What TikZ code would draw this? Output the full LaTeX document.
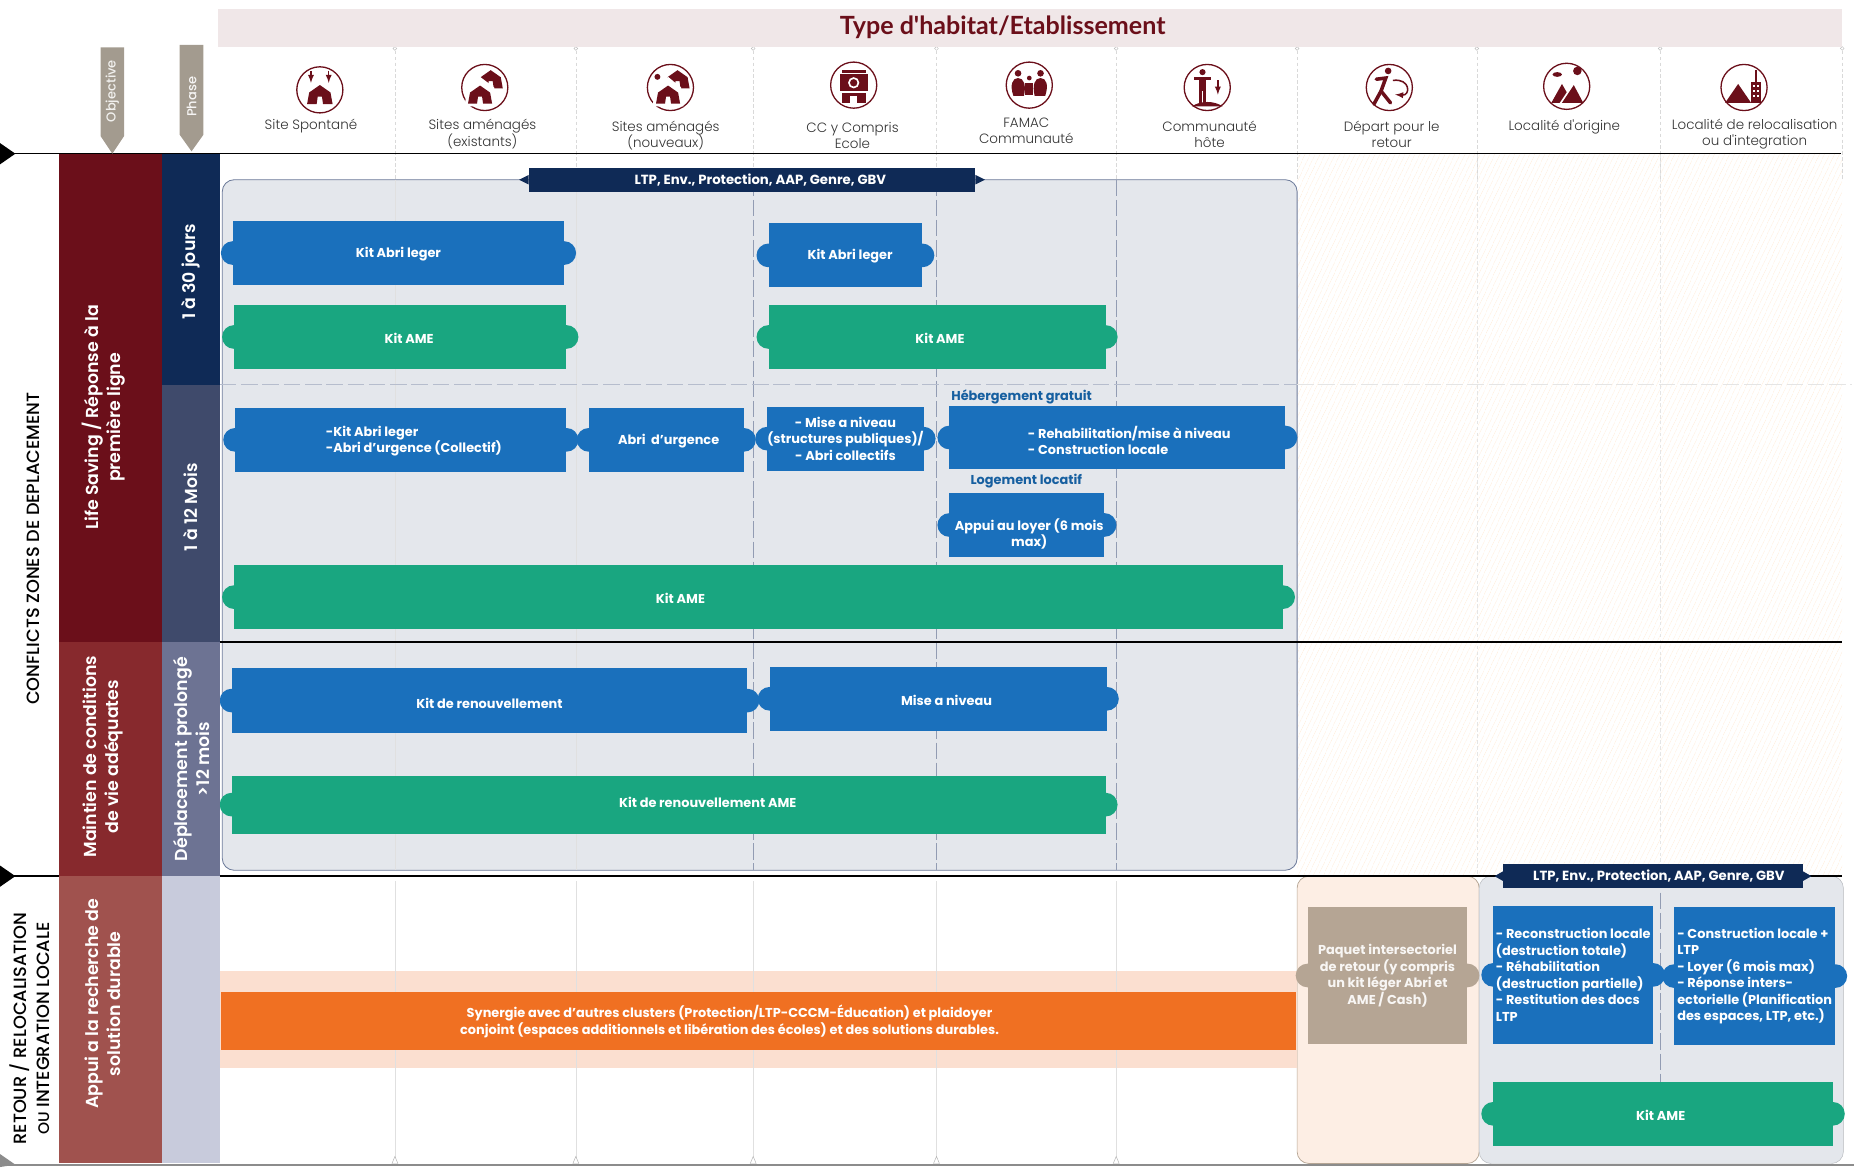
\documentclass[tikz,border=0pt]{standalone}
\usepackage{fontspec}
\setmainfont{Poppins}
\newfontfamily\titlefont{Lato}
\newfontfamily\lightfont{Poppins Light}
\newfontfamily\mediumfont{Poppins Medium}
\newfontfamily\semifont{Poppins SemiBold}
\usetikzlibrary{patterns.meta}
\pgfdeclarelayer{background}
\pgfdeclarelayer{bumps}
\pgfsetlayers{background,bumps,main}
\definecolor{iconred}{HTML}{6B0F1A}
\definecolor{kitblue}{HTML}{1A70BC}
\definecolor{kitgreen}{HTML}{19A680}
\definecolor{tagnavy}{HTML}{0F2A56}
\definecolor{panelgrey}{HTML}{E4E7EC}
\definecolor{paneledge}{HTML}{6D7B9A}
\definecolor{peach}{HTML}{FDEEE4}
\definecolor{tagtan}{HTML}{A39B8F}
\definecolor{tanbox}{HTML}{B5A594}
\definecolor{synorange}{HTML}{F07022}
\definecolor{synlight}{HTML}{FBDFD0}
\def\kitfont{\fontsize{10.9}{14}\selectfont\bfseries}
\tikzset{
  kit/.style={rectangle, inner sep=0pt, fill=#1, text=white, align=center, font=\kitfont,
    append after command={\pgfextra{\begin{pgfonlayer}{bumps}
      \fill[#1] (\tikzlastnode.west) circle[radius=10];
      \fill[#1] (\tikzlastnode.east) circle[radius=10];
    \end{pgfonlayer}}}},
  kittext/.style={text=white, align=left, inner sep=0pt, yshift=-1, font=\kitfont},
  header/.style={text=black!80, align=center, inner sep=0pt, font=\lightfont\fontsize{11.4}{14}\selectfont},
  subhead/.style={text=kitblue!85!black, inner sep=0pt, font=\fontsize{10.9}{14}\selectfont\bfseries},
  sidetext/.style={rotate=90, text=white, align=center, inner sep=0pt, font=\semifont\fontsize{14.7}{18.5}\selectfont},
  zonetext/.style={rotate=90, text=black, align=center, inner sep=0pt, font=\mediumfont\fontsize{15}{19}\selectfont},
  navtag/.style={rectangle, fill=tagnavy, inner sep=0pt, minimum height=20},
  tagtext/.style={text=white, inner sep=0pt, font=\fontsize{11.2}{14}\selectfont\bfseries},
  ring/.style={circle, draw=iconred, line width=1.1pt, fill=white, minimum size=39, inner sep=0pt},
  tent/.pic={\fill[iconred] (-12,9) -- (-10,-2) -- (0,-9) -- (10,-2) -- (12,9) -- (3,9) -- (2,2) -- (-2,2) -- (-3,9) -- cycle;}
}
\begin{document}
\begin{tikzpicture}[x=1pt,y=-1pt]
\useasboundingbox (0,0) rectangle (1568,987);
% backdrops
\begin{pgfonlayer}{background}
  \fill[pattern={Lines[angle=65,distance=4pt,line width=.35pt]}, pattern color=orange!32] (1097,131) rectangle (1558,741);
  \fill[fill=panelgrey, draw=paneledge, line width=.7pt, rounded corners=10] (188,152) rectangle (1097,736);
  \fill[fill=peach, draw=tanbox, line width=.6pt, rounded corners=10] (1097,741) rectangle (1251,984);
  \fill[fill=panelgrey, draw=panelgrey!80!black, rounded corners=10] (1251,741) rectangle (1559,984);
  \fill[fill=synlight] (186,821) rectangle (1097,903);
  \foreach \x in {334,487,637,792,944,1097,1249,1404,1558}{
    \draw[black!15, densely dashed] (\x,43) -- (\x,152);
    \draw[black!25, fill=white] (\x,41) circle[radius=1.6];
  }
  \foreach \x in {334,487}{
    \draw[black!12] (\x,152) -- (\x,736);
    \draw[black!12] (\x,745) -- (\x,983);
    \draw[black!30, fill=white] (\x-2.5,984) -- (\x,978) -- (\x+2.5,984) -- cycle;
  }
  \foreach \x in {637,792,944}{
    \draw[paneledge!75, dash pattern=on 14pt off 3pt] (\x,152) -- (\x,736);
    \draw[black!12] (\x,745) -- (\x,983);
    \draw[black!30, fill=white] (\x-2.5,984) -- (\x,978) -- (\x+2.5,984) -- cycle;
  }
  \foreach \x in {1249,1404}{
    \draw[black!10, densely dashed] (\x,131) -- (\x,741);
  }
  \draw[paneledge!75, dash pattern=on 14pt off 3pt] (1404,755) -- (1404,915);
  \draw[paneledge!50, dash pattern=on 14pt off 4pt] (186,325) -- (1097,325);
  \draw[black!10, dash pattern=on 14pt off 4pt] (1097,325) -- (1566,325);
\end{pgfonlayer}

% title band
\node (type_band) [rectangle, fill=iconred!10, minimum width=1374, minimum height=32, inner sep=0pt] at (871,24) {};
\node (type_text) [text=iconred, inner sep=0pt, font=\titlefont\fontsize{21.2}{24}\selectfont\bfseries] at (848,23.5) {Type d'habitat/Etablissement};

% section rules
\coordinate (rule_a) at (0,130);
\coordinate (rule_b) at (1557,130);
\coordinate (rule_c) at (137,543);
\coordinate (rule_d) at (1558,543);
\coordinate (rule_e) at (0,741);
\coordinate (rule_f) at (1558,741);
\coordinate (rule_g) at (0,985.5);
\coordinate (rule_h) at (1568,985.5);
\draw[line width=1.3pt] (rule_a) -- (rule_b);
\draw[line width=1.1pt] (rule_c) -- (rule_d);
\draw[line width=1.3pt] (rule_e) -- (rule_f);
\draw[line width=1.3pt, black!45] (rule_g) -- (rule_h);
\fill (0,121) -- (13,130) -- (0,139) -- cycle;
\fill (0,732) -- (13,741) -- (0,750) -- cycle;
\fill[black!45] (0,976) -- (13,985) -- (0,987) -- cycle;

% objective and phase columns
\node (obj_a) [rectangle, fill=iconred, minimum width=87, minimum height=413, inner sep=0pt] at (93.5,336.5) {};
\node (obj_b) [rectangle, fill={rgb,255:red,135;green,41;blue,45}, minimum width=87, minimum height=198, inner sep=0pt] at (93.5,642) {};
\node (obj_c) [rectangle, fill={rgb,255:red,160;green,82;blue,78}, minimum width=87, minimum height=243, inner sep=0pt] at (93.5,862.5) {};
\node (pha_a) [rectangle, fill=tagnavy, minimum width=49, minimum height=196, inner sep=0pt] at (161.5,228) {};
\node (pha_b) [rectangle, fill={rgb,255:red,63;green,74;blue,107}, minimum width=49, minimum height=217, inner sep=0pt] at (161.5,434.5) {};
\node (pha_c) [rectangle, fill={rgb,255:red,109;green,115;blue,147}, minimum width=49, minimum height=198, inner sep=0pt] at (161.5,642) {};
\node (pha_d) [rectangle, fill={rgb,255:red,200;green,203;blue,220}, minimum width=49, minimum height=243, inner sep=0pt] at (161.5,862.5) {};

\node (obj_a_txt) [sidetext] at (88,353) {Life Saving / Réponse à la\\première ligne};
\node (obj_b_txt) [sidetext] at (87,640) {Maintien de conditions\\de vie adéquates};
\node (obj_c_txt) [sidetext] at (87,849) {Appui a la recherche de\\solution durable};
\node (pha_a_txt) [sidetext] at (161,230) {1 à 30 jours};
\node (pha_b_txt) [sidetext] at (161,429) {1 à 12 Mois};
\node (pha_c_txt) [sidetext] at (162,642) {Déplacement prolongé\\>12 mois};
\node (zone_a) [zonetext] at (28,464) {CONFLICTS ZONES DE DEPLACEMENT};
\node (zone_b) [zonetext] at (25,870) {RETOUR / RELOCALISATION\\{\fontsize{13}{19}\selectfont OU} INTEGRATION LOCALE};

% column tags
\fill[tagtan] (85,40) -- (105,40) -- (105,115) -- (95,130) -- (85,115) -- cycle;
\fill[tagtan] (152,38) -- (172,38) -- (172,114) -- (162,128) -- (152,114) -- cycle;
\node (tag_obj) [rotate=90, text=white!85!tagtan, inner sep=0pt, font=\mediumfont\fontsize{11}{12}\selectfont] at (95,77) {Objective};
\node (tag_pha) [rotate=90, text=white!90!tagtan, inner sep=0pt, font=\mediumfont\fontsize{11}{12}\selectfont] at (162,82) {Phase};

% habitat headers
\node (site_spo) [header] at (263,107) {Site Spontané};
\node (site_exi) [header] at (408,113.5) {Sites aménagés\\(existants)};
\node (site_nou) [header] at (563,114.5) {Sites aménagés\\(nouveaux)};
\node (site_ecl) [header] at (721,114.5) {CC y Compris\\Ecole};
\node (site_fam) [header] at (868,110.5) {FAMAC\\Communauté};
\node (site_hot) [header] at (1023,113.5) {Communauté\\hôte};
\node (site_dep) [header] at (1177,113.5) {Départ pour le\\retour};
\node (site_ori) [header] at (1323,107) {Localité d'origine};
\node (site_rel) [header] at (1484,113.5) {Localité de relocalisation\\ou d'integration};

% icons
\node (ico_spo) [ring] at (270.5,76) {};
\path (270.5,80) pic[scale=.9] {tent};
\draw[iconred, line width=1.3pt, -latex] (263,60) -- (263,70);
\draw[iconred, line width=1.3pt, -latex] (278,60) -- (278,70);

\node (ico_exi) [ring] at (410,74) {};
\begin{scope}[shift={(415,67)}, rotate=-20]
  \path (0,0) pic[scale=.85] {tent};
\end{scope}
\fill[white] (393,90) -- (395,74) -- (406,65) -- (418,74) -- (420,90) -- cycle;
\path (406,80) pic[scale=.85] {tent};

\node (ico_nou) [ring] at (567,74) {};
\begin{scope}[shift={(573,67)}, rotate=-20]
  \path (0,0) pic[scale=.85] {tent};
\end{scope}
\fill[white] (552,90) -- (554,74) -- (565,65) -- (576,74) -- (578,90) -- cycle;
\path (565,80) pic[scale=.85] {tent};
\fill[iconred] (556,65) circle[radius=2.5];

\node (ico_ecl) [ring] at (722,72) {};
\fill[iconred] (712,59) rectangle (732,62);
\fill[iconred] (710,63) rectangle (734,77);
\fill[iconred] (712,79) rectangle (732,87);
\fill[white] (719,81) rectangle (725,87);
\draw[white, line width=1.4pt] (722,70) circle[radius=4];

\node (ico_fam) [ring] at (870.5,72) {};
\fill[iconred] (861,62) circle[radius=2.8];
\fill[iconred] (880,62) circle[radius=2.8];
\fill[iconred] (870.5,66) circle[radius=2];
\fill[iconred] (857,81) .. controls (854,72) and (856,66) .. (861,66) .. controls (866,66) and (868,72) .. (866,81) -- cycle;
\fill[iconred] (875,81) .. controls (873,72) and (875,66) .. (880,66) .. controls (885,66) and (887,72) .. (884,81) -- cycle;
\fill[iconred] (867,70) rectangle (874,80);

\node (ico_hot) [ring] at (1021,74) {};
\fill[iconred] (1017,61) circle[radius=2.6];
\fill[iconred] (1010,65) rectangle (1024,68);
\fill[iconred] (1014,65) rectangle (1020,77);
\fill[iconred] (1014,77) rectangle (1016.5,88);
\fill[iconred] (1017.5,77) rectangle (1020,88);
\fill[iconred] (1008,90) .. controls (1015,85) and (1027,85) .. (1034,90) -- cycle;
\draw[iconred, line width=1.3pt, -latex] (1030,68) -- (1030,80);

\node (ico_dep) [ring] at (1175,74) {};
\fill[iconred] (1174,60) circle[radius=2.8];
\draw[iconred, line width=3pt, line cap=round] (1164,67) -- (1172,66) -- (1168,77) -- (1162,88);
\draw[iconred, line width=3pt, line cap=round] (1168,77) -- (1176,87);
\draw[iconred, line width=1.3pt, -latex] (1178,68) .. controls (1193,66) and (1193,81) .. (1180,80);

\node (ico_ori) [ring] at (1325,73) {};
\fill[iconred] (1334,60) circle[radius=3.6];
\fill[iconred] (1317,63) ellipse[x radius=4, y radius=2];
\fill[iconred] (1312,87) -- (1321,71) -- (1325,78) -- (1319,87) -- cycle;
\fill[iconred] (1321,87) -- (1331,72) -- (1339,87) -- cycle;

\node (ico_rel) [ring] at (1475,74) {};
\fill[iconred] (1459,87) -- (1470,71) -- (1481,87) -- cycle;
\fill[iconred] (1481,69) rectangle (1489,87);
\fill[iconred] (1484,59) rectangle (1486,69);
\foreach \wy in {72,76,80}{
  \fill[white] (1482.5,\wy) rectangle (1484.2,\wy+2);
  \fill[white] (1485.8,\wy) rectangle (1487.5,\wy+2);
}

% cross-cutting tags
\coordinate (tag_a_l) at (439,152);
\coordinate (tag_a_r) at (833,152);
\coordinate (tag_b_l) at (1264,741);
\coordinate (tag_b_r) at (1532,741);
\node (tag_a) [navtag, minimum width=378] at (636,152) {};
\node (tag_a_txt) [tagtext] at (643,152) {LTP, Env., Protection, AAP, Genre, GBV};
\node (tag_b) [navtag, minimum width=254] at (1398,741) {};
\node (tag_b_txt) [tagtext] at (1403,741) {LTP, Env., Protection, AAP, Genre, GBV};
\fill[tagnavy] (tag_a_l) -- (447,148) -- (447,156) -- cycle;
\fill[tagnavy] (tag_a_r) -- (825,148) -- (825,156) -- cycle;
\fill[tagnavy] (tag_b_l) -- (1271,737) -- (1271,745) -- cycle;
\fill[tagnavy] (tag_b_r) -- (1525,737) -- (1525,745) -- cycle;

% 1 a 30 jours
\node (abri_a) [kit=kitblue, minimum width=280, minimum height=54] at (337,214) {};
\node (abri_a_txt) [kittext] at (abri_a) {Kit Abri leger};
\node (ame_a) [kit=kitgreen, minimum width=281, minimum height=54] at (338.5,285) {};
\node (ame_a_txt) [kittext, xshift=7.5] at (ame_a) {Kit AME};
\node (abri_b) [kit=kitblue, minimum width=130, minimum height=54] at (715,216) {};
\node (abri_b_txt) [kittext, xshift=4] at (abri_b) {Kit Abri leger};
\node (ame_b) [kit=kitgreen, minimum width=285, minimum height=54] at (792.5,285) {};
\node (ame_b_txt) [kittext, xshift=2.5] at (ame_b) {Kit AME};

% 1 a 12 mois
\node (abri_c) [kit=kitblue, minimum width=280, minimum height=54] at (339,372) {};
\node (abri_c_txt) [kittext, xshift=11] at (abri_c) {-Kit Abri leger\\-Abri d'urgence (Collectif)};
\node (urge_a) [kit=kitblue, minimum width=131, minimum height=54] at (563.5,372) {};
\node (urge_a_txt) [kittext, xshift=2] at (urge_a) {Abri\ \ d'urgence};
\node (mise_a) [kit=kitblue, minimum width=130, minimum height=54] at (715,371) {- Mise a niveau\\(structures publiques)/\\- Abri collectifs};
\node (reha_a) [kit=kitblue, minimum width=284, minimum height=54] at (945,370) {};
\node (reha_a_txt) [kittext, xshift=10, yshift=-1.5] at (reha_a) {- Rehabilitation/mise à niveau\\- Construction locale};
\node (heb_lab) [subhead] at (864,335.5) {Hébergement gratuit};
\node (log_lab) [subhead] at (868,406.5) {Logement locatif};
\node (loyer_a) [kit=kitblue, minimum width=131, minimum height=54] at (868.5,444) {};
\node (loyer_a_txt) [kittext, align=center, xshift=2, yshift=-6.5] at (loyer_a) {Appui au loyer (6 mois\\max)};
\node (ame_c) [kit=kitgreen, minimum width=887, minimum height=54] at (641.5,505) {};
\node (ame_c_txt) [kittext, xshift=-66] at (ame_c) {Kit AME};

% deplacement prolonge
\node (renou_a) [kit=kitblue, minimum width=436, minimum height=55] at (414,592.5) {};
\node (renou_a_txt) [kittext, yshift=-1] at (renou_a) {Kit de renouvellement};
\node (mise_b) [kit=kitblue, minimum width=285, minimum height=54] at (793.5,591) {};
\node (mise_b_txt) [kittext, xshift=7] at (mise_b) {Mise a niveau};
\node (renou_b) [kit=kitgreen, minimum width=739, minimum height=49] at (565.5,680.5) {};
\node (renou_b_txt) [kittext, xshift=33, yshift=3] at (renou_b) {Kit de renouvellement AME};

% retour
\node (syn_a) [rectangle, fill=synorange, inner sep=0pt, minimum width=909, minimum height=49] at (641.5,863.5) {};
\node (syn_a_txt) [text=white, align=center, inner sep=0pt, font=\kitfont] at (617,864) {Synergie avec d'autres clusters (Protection/LTP-CCCM-Éducation) et plaidoyer\\conjoint (espaces additionnels et libération des écoles) et des solutions durables.};
\node (paquet) [kit=tanbox, minimum width=135, minimum height=116, text=white!90!tanbox] at (1173.5,825) {Paquet intersectoriel\\de retour (y compris\\un kit léger Abri et\\AME / Cash)};
\node (recon) [kit=kitblue, minimum width=135, minimum height=117, align=left] at (1330.5,824.5) {- Reconstruction locale\\(destruction totale)\\- Réhabilitation\\(destruction partielle)\\- Restitution des docs\\LTP};
\node (locale) [kit=kitblue, minimum width=136, minimum height=117, align=left] at (1484,825.5) {- Construction locale +\\LTP\\- Loyer (6 mois max)\\- Réponse inters-\\ectorielle (Planification\\des espaces, LTP, etc.)};
\node (ame_d) [kit=kitgreen, minimum width=287, minimum height=54] at (1406.5,942) {};
\node (ame_d_txt) [kittext, xshift=-2] at (ame_d) {Kit AME};
\end{tikzpicture}
\end{document}
